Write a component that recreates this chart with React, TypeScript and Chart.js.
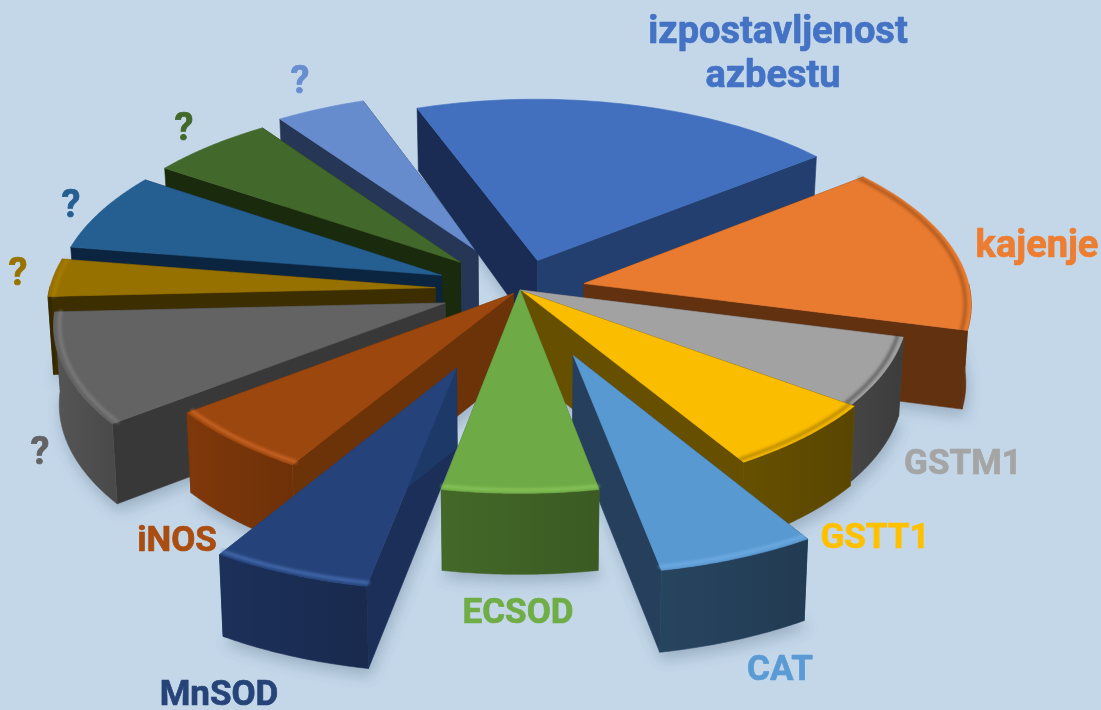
import React, { useEffect, useRef } from "react";
import { Chart, registerables, ArcElement, PieController } from "chart.js";

// ---- data -----
const categories: string[][] = [
  ["izpostavljenost", "azbestu"], ["kajenje"], ["GSTM1"], ["GSTT1"], ["CAT"], ["ECSOD"], ["MnSOD"], ["iNOS"],
  ["?"], ["?"], ["?"], ["?"], ["?"],
];
const shares = [19.85, 14.75, 6, 6.2, 5.8, 5.9, 5.8, 5.8, 9.7, 3.3, 6.9, 5.8, 4.2];

// ---- styles -----
const topColors = ["#4270BF", "#E97B30", "#A2A2A2", "#FBBD00", "#5999D1", "#6EAA46", "#25437A", "#9C470E", "#636363", "#977100", "#255E91", "#43682B", "#678CCE"];
const labelColors = ["#4472C4", "#ED7D31", "#A5A5A5", "#FFC000", "#5B9BD5", "#70AD47", "#264478", "#AA4D10", "#636363", "#997300", "#255E91", "#43682B", "#698ED0"];
const labelSizes = [38, 38, 35, 35, 35, 35, 35, 35, 38, 38, 38, 38, 38];
const outerWallColors = ["#223F70", "#623110", "#454545", "#665000", "#27445F", "#436828", "#1C3059", "#7F380A", "#555555", "#3D2E00", "#0B2540", "#1A2A0C", "#263657"];
const startWallColors = ["#1A2C54", "#623110", "#454545", "#665000", "#233F5C", "#3F6226", "#1B2F58", "#6C3208", "#383838", "#3D2E00", "#0B2540", "#1A2A0C", "#263657"];
const endWallColors = ["#223F70", "#623110", "#454545", "#665000", "#253F5C", "#3F6226", "#1D3968", "#6C3208", "#383838", "#3D2E00", "#0B2540", "#1A2A0C", "#263657"];
const edgeColors = ["", "rgba(90,40,5,.4)", "rgba(40,40,40,.5)", "rgba(110,80,0,.45)", "rgba(125,185,240,.55)", "rgba(145,205,95,.7)", "rgba(75,115,185,.8)", "rgba(215,110,45,.75)", "rgba(135,135,135,.65)", "rgba(190,145,0,.4)", "", "", ""];
const explode = [17, 17, 0, 1, 37, 0, 44, 2.5, 20.5, 22, 22, 22, 24];
const paintOrder = [12, 0, 11, 10, 9, 1, 8, 2, 7, 3, 6, 4, 5];
const labelAnchors = [[778, 33, 773, 77], [1037, 247], [963, 465], [875, 539], [780, 671], [518, 614], [219, 696], [177, 542], [40, 454], [18, 275], [71, 207], [184, 130], [300, 83]];

// camera of the tilted plane
const A = 386, B = 183, P = 0.1;
const project = (cx: number, cy: number, X: number, Y: number) => {
  const w = 1 - P * Y;
  return [cx + (A * X) / w, cy + (B * Y) / w];
};
const wallHeight = (Y: number) => (Y > 0 ? 78 + 3 * Y : 78 + 14 * Y);
const BOTTOM_SHRINK = 0.988;

class Arc3D extends (ArcElement as any) {
  static id = "arc3d";
  geometry() {
    const { x, y, startAngle, endAngle } = (this as any).getProps(["x", "y", "startAngle", "endAngle"]);
    const off = ((this as any).options.offset || 0) / 100;
    const mid = (startAngle + endAngle) / 2;
    const ox = Math.cos(mid) * off, oy = Math.sin(mid) * off;
    const rim: number[][] = [];
    const n = 48;
    for (let i = 0; i <= n; i++) {
      const a = startAngle + ((endAngle - startAngle) * i) / n;
      rim.push([ox + Math.cos(a), oy + Math.sin(a), Math.sin(a)]);
    }
    return { x, y, ox, oy, rim };
  }
  poly(ctx: CanvasRenderingContext2D, pts: number[][], color: any) {
    ctx.fillStyle = color;
    ctx.strokeStyle = color;
    ctx.lineWidth = 0.6;
    ctx.lineJoin = "round";
    ctx.beginPath();
    pts.forEach((p, i) => (i ? ctx.lineTo(p[0], p[1]) : ctx.moveTo(p[0], p[1])));
    ctx.closePath();
    ctx.fill();
    ctx.stroke();
  }
  drawShadow(ctx: CanvasRenderingContext2D) {
    const { x, y, ox, oy, rim } = this.geometry();
    const pts = [[ox, oy], ...rim].map(([X, Y]) => {
      const p = project(x, y, X, Y);
      return [x + (p[0] - x) * BOTTOM_SHRINK + 2, p[1] + wallHeight(Y) + 7];
    });
    this.poly(ctx, pts, "rgba(105,125,145,.42)");
  }
  draw(ctx: CanvasRenderingContext2D) {
    const i = (this as any).sliceIndex as number;
    const { x, y, ox, oy, rim } = this.geometry();
    const up = (p: number[]) => project(x, y, p[0], p[1]);
    const down = (p: number[]) => {
      const s = up(p);
      return [x + (s[0] - x) * BOTTOM_SHRINK, s[1] + wallHeight(p[1])];
    };
    const apex = [ox, oy];
    const first = rim[0], last = rim[rim.length - 1];
    ctx.save();
    this.poly(ctx, [up(apex), up(first), down(first), down(apex)], startWallColors[i]);
    this.poly(ctx, [up(apex), up(last), down(last), down(apex)], endWallColors[i]);
    const front = rim.filter((p) => p[2] >= -0.01);
    if (front.length > 1) {
      const pts = [...front.map(up), ...front.slice().reverse().map(down)];
      this.poly(ctx, pts, outerWallColors[i]);
      const a = up(front[0]), b = up(front[front.length - 1]);
      const g = ctx.createLinearGradient(Math.min(a[0], b[0]), 0, Math.max(a[0], b[0]), 0);
      g.addColorStop(0, "rgba(0,0,0,0)");
      g.addColorStop(1, "rgba(0,0,0,.13)");
      ctx.fillStyle = g;
      ctx.beginPath();
      pts.forEach((p, k) => (k ? ctx.lineTo(p[0], p[1]) : ctx.moveTo(p[0], p[1])));
      ctx.closePath();
      ctx.fill();
    }
    this.poly(ctx, [up(apex), ...rim.map(up)], topColors[i]);
    if (edgeColors[i]) {
      const inner = rim.map((p) => [ox + (p[0] - ox) * 0.985, oy + (p[1] - oy) * 0.985]);
      ctx.filter = "blur(1.6px)";
      ctx.strokeStyle = edgeColors[i];
      ctx.lineWidth = 3.5;
      ctx.lineCap = "round";
      ctx.beginPath();
      inner.map(up).forEach((p, k) => (k ? ctx.lineTo(p[0], p[1]) : ctx.moveTo(p[0], p[1])));
      ctx.stroke();
    }
    ctx.restore();
  }
}

class Pie3D extends (PieController as any) {
  static id = "pie3d";
  static defaults = { ...(PieController as any).defaults, dataElementType: "arc3d" };
  draw() {
    const ctx = (this as any).chart.ctx as CanvasRenderingContext2D;
    const arcs = (this as any).getMeta().data as any[];
    arcs.forEach((a, i) => (a.sliceIndex = i));
    ctx.save();
    ctx.filter = "blur(7px)";
    arcs.forEach((a) => a.drawShadow(ctx));
    ctx.restore();
    paintOrder.forEach((i) => arcs[i].draw(ctx));
  }
}

const sliceLabels = {
  id: "sliceLabels",
  afterDraw(chart: any) {
    const ctx = chart.ctx as CanvasRenderingContext2D;
    ctx.save();
    ctx.textAlign = "center";
    ctx.textBaseline = "middle";
    ctx.lineWidth = 0.7;
    ctx.lineJoin = "round";
    (chart.data.labels as string[][]).forEach((lines, i) => {
      ctx.font = `bold ${labelSizes[i]}px Roboto`;
      ctx.fillStyle = labelColors[i];
      ctx.strokeStyle = labelColors[i];
      const a = labelAnchors[i];
      lines.forEach((t, k) => {
        ctx.fillText(t, a[k * 2], a[k * 2 + 1]);
        ctx.strokeText(t, a[k * 2], a[k * 2 + 1]);
      });
    });
    ctx.restore();
  },
};

Chart.register(...registerables, Arc3D as any, Pie3D as any);

export default function App() {
  const ref = useRef<HTMLCanvasElement>(null);
  useEffect(() => {
    const chart = new Chart(ref.current!, {
      type: "pie3d" as any,
      data: {
        labels: categories as any,
        datasets: [{ data: shares, backgroundColor: topColors, borderWidth: 0, offset: explode } as any],
      },
      options: {
        animation: false,
        responsive: false,
        maintainAspectRatio: false,
        rotation: 340,
        layout: { padding: { left: 0, top: 0, right: 61, bottom: 130 } },
        plugins: { legend: { display: false }, tooltip: { enabled: false } },
      } as any,
      plugins: [sliceLabels],
    });
    return () => chart.destroy();
  }, []);
  return (
    <div style={{ position: "fixed", left: 0, top: 0, width: 1101, height: 710, background: "#C3D7E9", overflow: "hidden" }}>
      <canvas ref={ref} width={1101} height={710} style={{ display: "block" }} />
    </div>
  );
}
